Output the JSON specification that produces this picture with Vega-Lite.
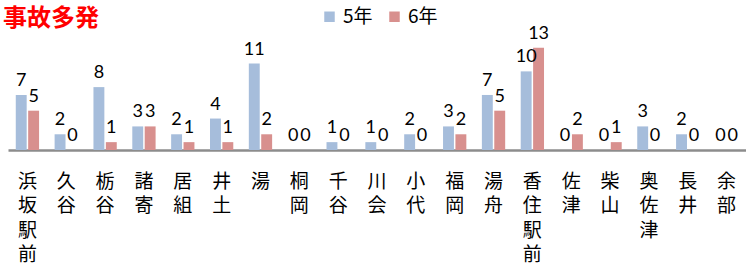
{
  "$schema": "https://vega.github.io/schema/vega-lite/v6.json",
  "autosize": "none",
  "width": 738,
  "height": 114,
  "padding": {"left": 8, "top": 36, "right": 0, "bottom": 127},
  "background": "white",
  "view": {"stroke": null},
  "title": {"text": "事故多発", "anchor": "start", "dx": -5, "offset": -24, "color": "#ff0000", "fontSize": 24, "fontWeight": "bold", "font": "Noto Sans CJK JP"},
  "data": {"values": [
    {"地区": "浜坂駅前", "年": "5年", "件数": 7}, {"地区": "浜坂駅前", "年": "6年", "件数": 5},
    {"地区": "久谷", "年": "5年", "件数": 2}, {"地区": "久谷", "年": "6年", "件数": 0},
    {"地区": "栃谷", "年": "5年", "件数": 8}, {"地区": "栃谷", "年": "6年", "件数": 1},
    {"地区": "諸寄", "年": "5年", "件数": 3}, {"地区": "諸寄", "年": "6年", "件数": 3},
    {"地区": "居組", "年": "5年", "件数": 2}, {"地区": "居組", "年": "6年", "件数": 1},
    {"地区": "井土", "年": "5年", "件数": 4}, {"地区": "井土", "年": "6年", "件数": 1},
    {"地区": "湯", "年": "5年", "件数": 11}, {"地区": "湯", "年": "6年", "件数": 2},
    {"地区": "桐岡", "年": "5年", "件数": 0}, {"地区": "桐岡", "年": "6年", "件数": 0},
    {"地区": "千谷", "年": "5年", "件数": 1}, {"地区": "千谷", "年": "6年", "件数": 0},
    {"地区": "川会", "年": "5年", "件数": 1}, {"地区": "川会", "年": "6年", "件数": 0},
    {"地区": "小代", "年": "5年", "件数": 2}, {"地区": "小代", "年": "6年", "件数": 0},
    {"地区": "福岡", "年": "5年", "件数": 3}, {"地区": "福岡", "年": "6年", "件数": 2},
    {"地区": "湯舟", "年": "5年", "件数": 7}, {"地区": "湯舟", "年": "6年", "件数": 5},
    {"地区": "香住駅前", "年": "5年", "件数": 10}, {"地区": "香住駅前", "年": "6年", "件数": 13},
    {"地区": "佐津", "年": "5年", "件数": 0}, {"地区": "佐津", "年": "6年", "件数": 2},
    {"地区": "柴山", "年": "5年", "件数": 0}, {"地区": "柴山", "年": "6年", "件数": 1},
    {"地区": "奥佐津", "年": "5年", "件数": 3}, {"地区": "奥佐津", "年": "6年", "件数": 0},
    {"地区": "長井", "年": "5年", "件数": 2}, {"地区": "長井", "年": "6年", "件数": 0},
    {"地区": "余部", "年": "5年", "件数": 0}, {"地区": "余部", "年": "6年", "件数": 0}
  ]},
  "encoding": {
    "x": {"field": "地区", "type": "nominal", "sort": null,
      "scale": {"paddingInner": 0.4, "paddingOuter": 0.2},
      "axis": {"title": null, "labelAngle": 0, "labelExpr": "split(datum.value, '')", "labelFontSize": 19, "labelFont": "Noto Sans CJK JP", "labelColor": "#000", "labelLineHeight": 24.5, "labelPadding": 22, "labelBaseline": "top", "ticks": false, "domainColor": "#8c8c8c", "domainWidth": 2.5}},
    "xOffset": {"field": "年", "type": "nominal", "scale": {"paddingInner": 0.12}},
    "y": {"field": "件数", "type": "quantitative", "scale": {"domain": [0, 14.5], "nice": false}, "axis": null}
  },
  "layer": [
    {"mark": {"type": "bar"},
     "encoding": {
       "color": {"field": "年", "type": "nominal", "scale": {"domain": ["5年", "6年"], "range": ["#a6bddb", "#d8908e"]},
         "legend": {"title": null, "orient": "none", "direction": "horizontal", "legendX": 312, "legendY": -29, "symbolType": "square", "symbolSize": 110, "labelFontSize": 19, "labelFont": "Noto Sans CJK JP", "labelColor": "#000", "columnPadding": 12, "symbolStrokeWidth": 0}}
     }},
    {"mark": {"type": "text", "baseline": "bottom", "dy": -5, "fontSize": 18, "font": "Lato", "color": "#000"},
     "encoding": {"text": {"field": "件数", "type": "quantitative"}}}
  ]
}
